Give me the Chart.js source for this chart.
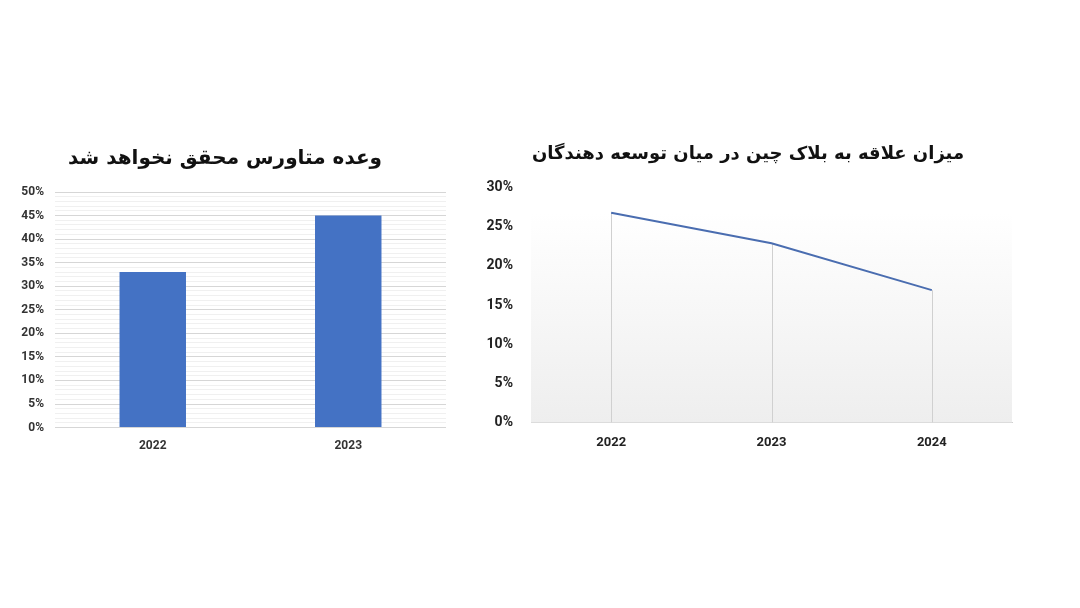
<!DOCTYPE html>
<html>
<head>
<meta charset="utf-8">
<script src="https://cdn.jsdelivr.net/npm/chart.js@4.4.1/dist/chart.umd.min.js"></script>
<style>
  body { margin: 0; background: #fff; width: 1080px; height: 608px; position: relative; overflow: hidden; }
  .box { position: absolute; }
  #leftBox { left: 0; top: 130px; width: 460px; height: 330px; }
  #rightBox { left: 480px; top: 130px; width: 560px; height: 330px; }
</style>
</head>
<body>
<div class="box" id="leftBox"><canvas id="leftChart"></canvas></div>
<div class="box" id="rightBox"><canvas id="rightChart"></canvas></div>
<script>
// --- data ---
const barTitle = "وعده متاورس محقق نخواهد شد";
const barYears = ["2022", "2023"];
const barValues = [33, 45];

const lineTitle = "میزان علاقه به بلاک چین در میان توسعه دهندگان";
const lineYears = ["2022", "2023", "2024"];
const lineValues = [26.8, 22.9, 16.9];

const blue = "#4472C4";

// gradient panel behind the line, from the highest point down to the axis
const panelBg = {
    id: "panelBg",
    beforeDatasetsDraw(chart) {
        const { ctx, chartArea, scales } = chart;
        const top = scales.y.getPixelForValue(Math.max(...lineValues));
        const g = ctx.createLinearGradient(0, top, 0, chartArea.bottom);
        g.addColorStop(0, "#ffffff");
        g.addColorStop(1, "#eeeeee");
        ctx.save();
        ctx.fillStyle = g;
        ctx.fillRect(chartArea.left, top, chartArea.right - chartArea.left, chartArea.bottom - top);
        ctx.restore();
    }
};

// vertical drop lines from each point to the axis
const dropLines = {
    id: "dropLines",
    beforeDatasetsDraw(chart) {
        const { ctx, chartArea } = chart;
        const pts = chart.getDatasetMeta(0).data;
        ctx.save();
        ctx.strokeStyle = "#d0d0d0";
        ctx.lineWidth = 1;
        pts.forEach(p => {
            ctx.beginPath();
            ctx.moveTo(Math.round(p.x) + 0.5, p.y);
            ctx.lineTo(Math.round(p.x) + 0.5, chartArea.bottom);
            ctx.stroke();
        });
        ctx.restore();
    }
};

Chart.defaults.animation = false;
Chart.defaults.responsive = true;
Chart.defaults.maintainAspectRatio = false;

new Chart(document.getElementById("leftChart"), {
    type: "bar",
    data: {
        labels: barYears,
        datasets: [{
            data: barValues,
            backgroundColor: blue,
            barPercentage: 0.34,
            categoryPercentage: 1
        }]
    },
    options: {
        layout: { padding: { left: 4, right: 14, bottom: 4 } },
        plugins: {
            legend: { display: false },
            tooltip: { enabled: false },
            title: {
                display: true,
                text: barTitle,
                color: "#111",
                font: { family: "DejaVu Sans", size: 20, weight: "bold" },
                padding: { top: 17, bottom: 21 }
            }
        },
        scales: {
            x: {
                grid: { display: false },
                border: { display: false },
                ticks: { color: "#333", font: { family: "Roboto", size: 12, weight: "bold" }, padding: 3 }
            },
            y: {
                min: 0, max: 50,
                border: { display: false },
                afterFit(s) { s.width = 51; },
                grid: {
                    color: c => c.tick.value % 5 === 0 ? "#d6d6d6" : "#f0f0f0",
                    lineWidth: 1,
                    drawTicks: false
                },
                ticks: {
                    stepSize: 1,
                    autoSkip: false,
                    padding: 11,
                    color: "#333",
                    font: { family: "Roboto", size: 12, weight: "bold" },
                    callback: v => v % 5 === 0 ? v + "%" : ""
                }
            }
        }
    }
});

new Chart(document.getElementById("rightChart"), {
    type: "line",
    data: {
        labels: lineYears,
        datasets: [{
            data: lineValues,
            borderColor: "#4a6db0",
            borderWidth: 2,
            pointRadius: 0,
            tension: 0
        }]
    },
    options: {
        layout: { padding: { left: 4, right: 28, bottom: 4 } },
        plugins: {
            legend: { display: false },
            tooltip: { enabled: false },
            title: {
                display: true,
                text: lineTitle,
                color: "#111",
                font: { family: "DejaVu Sans", size: 18, weight: "bold" },
                padding: { top: 14, bottom: 22 }
            }
        },
        scales: {
            x: {
                offset: true,
                grid: { display: false },
                border: { display: true, color: "#d0d0d0" },
                ticks: { color: "#222", font: { family: "Roboto", size: 13, weight: "bold" }, padding: 5 }
            },
            y: {
                min: 0, max: 30,
                afterFit(s) { s.width = 47; },
                border: { display: false },
                grid: { display: false },
                ticks: {
                    stepSize: 5,
                    padding: 10,
                    color: "#222",
                    font: { family: "Roboto", size: 14, weight: "bold" },
                    callback: v => v + "%"
                }
            }
        }
    },
    plugins: [panelBg, dropLines]
});
</script>
</body>
</html>
